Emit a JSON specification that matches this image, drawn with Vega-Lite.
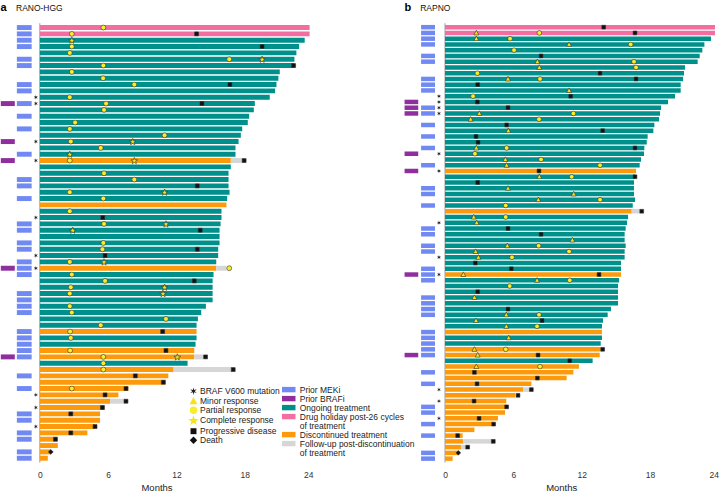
{
  "$schema": "https://vega.github.io/schema/vega-lite/v6.json",
  "padding": {"left": 0, "top": 1.2, "right": 0, "bottom": 0},
  "bounds": "flush",
  "spacing": 91,
  "resolve": {"legend": {"color": "independent", "shape": "independent", "fill": "independent"}},
  "config": {
    "view": {"stroke": null},
    "font": "Liberation Sans",
    "axisX": {"grid": false, "ticks": false, "domain": false, "labelFontSize": 8.5, "labelColor": "#333", "labelPadding": 8, "titleFontSize": 9.5, "titleFontWeight": "normal", "titleColor": "#222", "titlePadding": 3},
    "axisY": {"labels": false, "ticks": false, "domain": false, "grid": false, "titleAngle": 0, "titleAlign": "left", "titleBaseline": "alphabetic", "titleX": 0, "titleY": -12.9, "titleFontSize": 11, "titleFontWeight": "bold", "titleColor": "#000"}
  },
  "datasets": {
    "aRows": [
      {"r":1,"s":"Drug holiday post-26 cycles","end":23.7},
      {"r":2,"s":"Drug holiday post-26 cycles","end":23.7},
      {"r":3,"s":"Ongoing treatment","end":23.27},
      {"r":4,"s":"Ongoing treatment","end":22.78},
      {"r":5,"s":"Ongoing treatment","end":22.54},
      {"r":6,"s":"Ongoing treatment","end":22.37},
      {"r":7,"s":"Ongoing treatment","end":22.37},
      {"r":8,"s":"Ongoing treatment","end":21.08},
      {"r":9,"s":"Ongoing treatment","end":20.96},
      {"r":10,"s":"Ongoing treatment","end":20.79},
      {"r":11,"s":"Ongoing treatment","end":20.67},
      {"r":12,"s":"Ongoing treatment","end":20.2},
      {"r":13,"s":"Ongoing treatment","end":18.89},
      {"r":14,"s":"Ongoing treatment","end":18.8},
      {"r":15,"s":"Ongoing treatment","end":18.39},
      {"r":16,"s":"Ongoing treatment","end":18.27},
      {"r":17,"s":"Ongoing treatment","end":17.78},
      {"r":18,"s":"Ongoing treatment","end":17.66},
      {"r":19,"s":"Ongoing treatment","end":17.46},
      {"r":20,"s":"Ongoing treatment","end":17.19},
      {"r":21,"s":"Ongoing treatment","end":17.19},
      {"r":22,"s":"Discontinued treatment","end":16.78,"fu":17.95},
      {"r":23,"s":"Ongoing treatment","end":16.78},
      {"r":24,"s":"Ongoing treatment","end":16.58},
      {"r":25,"s":"Ongoing treatment","end":16.58},
      {"r":26,"s":"Ongoing treatment","end":16.58},
      {"r":27,"s":"Ongoing treatment","end":16.67},
      {"r":28,"s":"Ongoing treatment","end":16.46},
      {"r":29,"s":"Discontinued treatment","end":16.4},
      {"r":30,"s":"Ongoing treatment","end":15.96},
      {"r":31,"s":"Ongoing treatment","end":15.96},
      {"r":32,"s":"Ongoing treatment","end":15.88},
      {"r":33,"s":"Ongoing treatment","end":15.79},
      {"r":34,"s":"Ongoing treatment","end":15.79},
      {"r":35,"s":"Ongoing treatment","end":15.79},
      {"r":36,"s":"Ongoing treatment","end":15.67},
      {"r":37,"s":"Ongoing treatment","end":15.67},
      {"r":38,"s":"Ongoing treatment","end":15.5},
      {"r":39,"s":"Discontinued treatment","end":15.5,"fu":16.4},
      {"r":40,"s":"Ongoing treatment","end":15.26},
      {"r":41,"s":"Ongoing treatment","end":15.18},
      {"r":42,"s":"Ongoing treatment","end":15.18},
      {"r":43,"s":"Ongoing treatment","end":15.18},
      {"r":44,"s":"Ongoing treatment","end":15.18},
      {"r":45,"s":"Ongoing treatment","end":14.59},
      {"r":46,"s":"Ongoing treatment","end":14.18},
      {"r":47,"s":"Ongoing treatment","end":13.89},
      {"r":48,"s":"Ongoing treatment","end":13.77},
      {"r":49,"s":"Discontinued treatment","end":13.77},
      {"r":50,"s":"Ongoing treatment","end":13.77},
      {"r":51,"s":"Ongoing treatment","end":13.68},
      {"r":52,"s":"Discontinued treatment","end":13.57},
      {"r":53,"s":"Discontinued treatment","end":13.57,"fu":14.36},
      {"r":54,"s":"Ongoing treatment","end":12.98},
      {"r":55,"s":"Discontinued treatment","end":11.75,"fu":16.99},
      {"r":56,"s":"Discontinued treatment","end":11.29},
      {"r":57,"s":"Discontinued treatment","end":11.05},
      {"r":58,"s":"Discontinued treatment","end":7.78},
      {"r":59,"s":"Discontinued treatment","end":6.9},
      {"r":60,"s":"Discontinued treatment","end":6.17,"fu":7.57},
      {"r":61,"s":"Discontinued treatment","end":5.67},
      {"r":62,"s":"Discontinued treatment","end":5.29},
      {"r":63,"s":"Discontinued treatment","end":5.29},
      {"r":64,"s":"Discontinued treatment","end":4.85},
      {"r":65,"s":"Discontinued treatment","end":4.18},
      {"r":66,"s":"Discontinued treatment","end":1.55},
      {"r":67,"s":"Discontinued treatment","end":1.58},
      {"r":68,"s":"Discontinued treatment","end":0.96},
      {"r":69,"s":"Discontinued treatment","end":0.7}
    ],
    "aPrior": [
      {"r":1,"p":"Prior MEKi"},{"r":2,"p":"Prior MEKi"},{"r":3,"p":"Prior MEKi"},{"r":4,"p":"Prior MEKi"},{"r":6,"p":"Prior MEKi"},{"r":7,"p":"Prior MEKi"},{"r":10,"p":"Prior MEKi"},{"r":11,"p":"Prior MEKi"},{"r":13,"p":"Prior MEKi"},{"r":15,"p":"Prior MEKi"},{"r":17,"p":"Prior MEKi"},{"r":21,"p":"Prior MEKi"},{"r":25,"p":"Prior MEKi"},{"r":26,"p":"Prior MEKi"},{"r":28,"p":"Prior MEKi"},{"r":32,"p":"Prior MEKi"},{"r":33,"p":"Prior MEKi"},{"r":35,"p":"Prior MEKi"},{"r":36,"p":"Prior MEKi"},{"r":38,"p":"Prior MEKi"},{"r":39,"p":"Prior MEKi"},{"r":40,"p":"Prior MEKi"},{"r":43,"p":"Prior MEKi"},{"r":44,"p":"Prior MEKi"},{"r":45,"p":"Prior MEKi"},{"r":46,"p":"Prior MEKi"},{"r":49,"p":"Prior MEKi"},{"r":50,"p":"Prior MEKi"},{"r":51,"p":"Prior MEKi"},{"r":52,"p":"Prior MEKi"},{"r":53,"p":"Prior MEKi"},{"r":56,"p":"Prior MEKi"},{"r":58,"p":"Prior MEKi"},{"r":62,"p":"Prior MEKi"},{"r":63,"p":"Prior MEKi"},{"r":65,"p":"Prior MEKi"},{"r":66,"p":"Prior MEKi"},{"r":68,"p":"Prior MEKi"},{"r":69,"p":"Prior MEKi"},
      {"r":13,"p":"Prior BRAFi"},{"r":19,"p":"Prior BRAFi"},{"r":22,"p":"Prior BRAFi"},{"r":39,"p":"Prior BRAFi"},{"r":53,"p":"Prior BRAFi"}
    ],
    "aEvents": [
      {"r":12,"ev":"BRAF V600 mutation"},{"r":13,"ev":"BRAF V600 mutation"},{"r":19,"ev":"BRAF V600 mutation"},{"r":22,"ev":"BRAF V600 mutation"},{"r":31,"ev":"BRAF V600 mutation"},{"r":37,"ev":"BRAF V600 mutation"},{"r":39,"ev":"BRAF V600 mutation"},{"r":59,"ev":"BRAF V600 mutation"},{"r":61,"ev":"BRAF V600 mutation"},{"r":64,"ev":"BRAF V600 mutation"},
      {"r":1,"t":5.58,"ev":"Partial response"},
      {"r":2,"t":2.81,"ev":"Partial response"},{"r":2,"t":13.77,"ev":"Progressive disease"},
      {"r":3,"t":2.81,"ev":"Complete response"},
      {"r":4,"t":2.81,"ev":"Partial response"},{"r":4,"t":19.53,"ev":"Progressive disease"},
      {"r":5,"t":2.63,"ev":"Partial response"},
      {"r":6,"t":16.64,"ev":"Partial response"},{"r":6,"t":19.53,"ev":"Complete response"},
      {"r":7,"t":5.58,"ev":"Partial response"},{"r":7,"t":22.3,"ev":"Progressive disease"},
      {"r":8,"t":2.81,"ev":"Partial response"},
      {"r":9,"t":5.56,"ev":"Partial response"},
      {"r":10,"t":8.3,"ev":"Partial response"},{"r":10,"t":16.7,"ev":"Progressive disease"},
      {"r":12,"t":2.63,"ev":"Partial response"},
      {"r":13,"t":5.82,"ev":"Partial response"},{"r":13,"t":14.24,"ev":"Progressive disease"},
      {"r":14,"t":5.64,"ev":"Partial response"},
      {"r":16,"t":3.1,"ev":"Partial response"},
      {"r":17,"t":2.63,"ev":"Partial response"},
      {"r":18,"t":10.96,"ev":"Partial response"},
      {"r":19,"t":2.72,"ev":"Partial response"},{"r":19,"t":8.16,"ev":"Complete response"},
      {"r":20,"t":5.35,"ev":"Partial response"},
      {"r":21,"t":2.63,"ev":"Complete response"},
      {"r":22,"t":2.63,"ev":"Partial response"},{"r":22,"t":8.3,"ev":"Complete response"},{"r":22,"t":17.95,"ev":"Progressive disease"},
      {"r":24,"t":5.64,"ev":"Partial response"},
      {"r":25,"t":8.3,"ev":"Partial response"},
      {"r":26,"t":13.83,"ev":"Progressive disease"},
      {"r":27,"t":2.63,"ev":"Partial response"},{"r":27,"t":10.96,"ev":"Complete response"},
      {"r":28,"t":5.58,"ev":"Partial response"},
      {"r":30,"t":2.63,"ev":"Partial response"},
      {"r":31,"t":5.53,"ev":"Progressive disease"},
      {"r":32,"t":5.64,"ev":"Partial response"},{"r":32,"t":11.08,"ev":"Complete response"},
      {"r":33,"t":2.89,"ev":"Complete response"},{"r":33,"t":14.09,"ev":"Progressive disease"},
      {"r":35,"t":5.58,"ev":"Partial response"},
      {"r":36,"t":5.5,"ev":"Partial response"},{"r":36,"t":13.83,"ev":"Progressive disease"},
      {"r":37,"t":5.73,"ev":"Progressive disease"},
      {"r":38,"t":2.63,"ev":"Partial response"},{"r":38,"t":5.64,"ev":"Complete response"},
      {"r":39,"t":16.64,"ev":"Partial response"},
      {"r":40,"t":2.81,"ev":"Partial response"},
      {"r":41,"t":5.73,"ev":"Partial response"},{"r":41,"t":13.57,"ev":"Progressive disease"},
      {"r":42,"t":2.72,"ev":"Partial response"},{"r":42,"t":10.96,"ev":"Complete response"},
      {"r":43,"t":2.63,"ev":"Partial response"},{"r":43,"t":10.82,"ev":"Complete response"},
      {"r":45,"t":2.63,"ev":"Partial response"},
      {"r":46,"t":2.81,"ev":"Partial response"},
      {"r":47,"t":11.08,"ev":"Partial response"},
      {"r":48,"t":5.35,"ev":"Partial response"},
      {"r":49,"t":2.66,"ev":"Partial response"},{"r":49,"t":10.79,"ev":"Progressive disease"},
      {"r":50,"t":2.72,"ev":"Partial response"},
      {"r":52,"t":2.66,"ev":"Partial response"},{"r":52,"t":11.08,"ev":"Progressive disease"},
      {"r":53,"t":5.58,"ev":"Partial response"},{"r":53,"t":12.08,"ev":"Complete response"},{"r":53,"t":14.56,"ev":"Progressive disease"},
      {"r":54,"t":5.58,"ev":"Partial response"},
      {"r":55,"t":5.58,"ev":"Partial response"},{"r":55,"t":16.99,"ev":"Progressive disease"},
      {"r":56,"t":8.39,"ev":"Progressive disease"},
      {"r":57,"t":10.85,"ev":"Progressive disease"},
      {"r":58,"t":2.81,"ev":"Partial response"},{"r":58,"t":7.57,"ev":"Progressive disease"},
      {"r":59,"t":5.73,"ev":"Progressive disease"},
      {"r":60,"t":7.57,"ev":"Progressive disease"},
      {"r":61,"t":5.5,"ev":"Progressive disease"},
      {"r":62,"t":2.72,"ev":"Progressive disease"},
      {"r":64,"t":4.85,"ev":"Progressive disease"},
      {"r":65,"t":2.72,"ev":"Progressive disease"},
      {"r":66,"t":1.37,"ev":"Progressive disease"},
      {"r":68,"t":0.96,"ev":"Death"}
    ],
    "bRows": [
      {"r":1,"s":"Drug holiday post-26 cycles","end":23.7},
      {"r":2,"s":"Drug holiday post-26 cycles","end":23.7},
      {"r":3,"s":"Ongoing treatment","end":23.35},
      {"r":4,"s":"Ongoing treatment","end":22.77},
      {"r":5,"s":"Ongoing treatment","end":22.59},
      {"r":6,"s":"Ongoing treatment","end":22.36},
      {"r":7,"s":"Ongoing treatment","end":22.18},
      {"r":8,"s":"Ongoing treatment","end":21.07},
      {"r":9,"s":"Ongoing treatment","end":20.98},
      {"r":10,"s":"Ongoing treatment","end":20.9},
      {"r":11,"s":"Ongoing treatment","end":20.69},
      {"r":12,"s":"Ongoing treatment","end":20.69},
      {"r":13,"s":"Ongoing treatment","end":20.19},
      {"r":14,"s":"Ongoing treatment","end":19.58},
      {"r":15,"s":"Ongoing treatment","end":18.96},
      {"r":16,"s":"Ongoing treatment","end":18.88},
      {"r":17,"s":"Ongoing treatment","end":18.79},
      {"r":18,"s":"Ongoing treatment","end":18.38},
      {"r":19,"s":"Ongoing treatment","end":18.29},
      {"r":20,"s":"Ongoing treatment","end":17.79},
      {"r":21,"s":"Ongoing treatment","end":17.71},
      {"r":22,"s":"Ongoing treatment","end":17.5},
      {"r":23,"s":"Ongoing treatment","end":17.47},
      {"r":24,"s":"Ongoing treatment","end":17.21},
      {"r":25,"s":"Ongoing treatment","end":17.09},
      {"r":26,"s":"Discontinued treatment","end":16.77},
      {"r":27,"s":"Ongoing treatment","end":16.68},
      {"r":28,"s":"Ongoing treatment","end":16.59},
      {"r":29,"s":"Ongoing treatment","end":16.59},
      {"r":30,"s":"Ongoing treatment","end":16.59},
      {"r":31,"s":"Ongoing treatment","end":16.68},
      {"r":32,"s":"Ongoing treatment","end":16.48},
      {"r":33,"s":"Discontinued treatment","end":16.39,"fu":17.12},
      {"r":34,"s":"Ongoing treatment","end":16.07},
      {"r":35,"s":"Ongoing treatment","end":15.98},
      {"r":36,"s":"Ongoing treatment","end":15.86},
      {"r":37,"s":"Ongoing treatment","end":15.77},
      {"r":38,"s":"Ongoing treatment","end":15.77},
      {"r":39,"s":"Ongoing treatment","end":15.86},
      {"r":40,"s":"Ongoing treatment","end":15.77},
      {"r":41,"s":"Ongoing treatment","end":15.77},
      {"r":42,"s":"Ongoing treatment","end":15.45},
      {"r":43,"s":"Ongoing treatment","end":15.45},
      {"r":44,"s":"Discontinued treatment","end":15.45},
      {"r":45,"s":"Ongoing treatment","end":15.28},
      {"r":46,"s":"Ongoing treatment","end":15.19},
      {"r":47,"s":"Ongoing treatment","end":15.19},
      {"r":48,"s":"Ongoing treatment","end":15.19},
      {"r":49,"s":"Ongoing treatment","end":15.19},
      {"r":50,"s":"Ongoing treatment","end":14.57},
      {"r":51,"s":"Ongoing treatment","end":14.28},
      {"r":52,"s":"Ongoing treatment","end":13.87},
      {"r":53,"s":"Ongoing treatment","end":13.78},
      {"r":54,"s":"Discontinued treatment","end":13.78},
      {"r":55,"s":"Ongoing treatment","end":13.78},
      {"r":56,"s":"Ongoing treatment","end":13.67},
      {"r":57,"s":"Discontinued treatment","end":13.67},
      {"r":58,"s":"Discontinued treatment","end":13.58},
      {"r":59,"s":"Ongoing treatment","end":12.96},
      {"r":60,"s":"Discontinued treatment","end":11.76},
      {"r":61,"s":"Discontinued treatment","end":11.27},
      {"r":62,"s":"Discontinued treatment","end":10.68},
      {"r":63,"s":"Discontinued treatment","end":7.58},
      {"r":64,"s":"Discontinued treatment","end":6.88,"fu":7.4},
      {"r":65,"s":"Discontinued treatment","end":6.17},
      {"r":66,"s":"Discontinued treatment","end":5.38},
      {"r":67,"s":"Discontinued treatment","end":5.41},
      {"r":68,"s":"Discontinued treatment","end":5.27},
      {"r":69,"s":"Discontinued treatment","end":4.65},
      {"r":70,"s":"Discontinued treatment","end":4.27},
      {"r":71,"s":"Discontinued treatment","end":2.58},
      {"r":72,"s":"Discontinued treatment","end":1.55},
      {"r":73,"s":"Discontinued treatment","end":1.61,"fu":4.24},
      {"r":74,"s":"Discontinued treatment","end":1.4,"fu":1.9},
      {"r":75,"s":"Discontinued treatment","end":1.17},
      {"r":76,"s":"Discontinued treatment","end":0.67}
    ],
    "bPrior": [
      {"r":1,"p":"Prior MEKi"},{"r":2,"p":"Prior MEKi"},{"r":3,"p":"Prior MEKi"},{"r":4,"p":"Prior MEKi"},{"r":6,"p":"Prior MEKi"},{"r":7,"p":"Prior MEKi"},{"r":10,"p":"Prior MEKi"},{"r":11,"p":"Prior MEKi"},{"r":12,"p":"Prior MEKi"},{"r":15,"p":"Prior MEKi"},{"r":16,"p":"Prior MEKi"},{"r":18,"p":"Prior MEKi"},{"r":20,"p":"Prior MEKi"},{"r":22,"p":"Prior MEKi"},{"r":25,"p":"Prior MEKi"},{"r":29,"p":"Prior MEKi"},{"r":30,"p":"Prior MEKi"},{"r":32,"p":"Prior MEKi"},{"r":36,"p":"Prior MEKi"},{"r":37,"p":"Prior MEKi"},{"r":39,"p":"Prior MEKi"},{"r":40,"p":"Prior MEKi"},{"r":43,"p":"Prior MEKi"},{"r":44,"p":"Prior MEKi"},{"r":45,"p":"Prior MEKi"},{"r":48,"p":"Prior MEKi"},{"r":49,"p":"Prior MEKi"},{"r":50,"p":"Prior MEKi"},{"r":51,"p":"Prior MEKi"},{"r":54,"p":"Prior MEKi"},{"r":55,"p":"Prior MEKi"},{"r":56,"p":"Prior MEKi"},{"r":57,"p":"Prior MEKi"},{"r":58,"p":"Prior MEKi"},{"r":61,"p":"Prior MEKi"},{"r":63,"p":"Prior MEKi"},{"r":67,"p":"Prior MEKi"},{"r":68,"p":"Prior MEKi"},{"r":70,"p":"Prior MEKi"},{"r":72,"p":"Prior MEKi"},{"r":75,"p":"Prior MEKi"},{"r":76,"p":"Prior MEKi"},
      {"r":14,"p":"Prior BRAFi"},{"r":15,"p":"Prior BRAFi"},{"r":16,"p":"Prior BRAFi"},{"r":23,"p":"Prior BRAFi"},{"r":26,"p":"Prior BRAFi"},{"r":44,"p":"Prior BRAFi"},{"r":58,"p":"Prior BRAFi"}
    ],
    "bEvents": [
      {"r":13,"ev":"BRAF V600 mutation"},{"r":14,"ev":"BRAF V600 mutation"},{"r":15,"ev":"BRAF V600 mutation"},{"r":16,"ev":"BRAF V600 mutation"},{"r":23,"ev":"BRAF V600 mutation"},{"r":26,"ev":"BRAF V600 mutation"},{"r":35,"ev":"BRAF V600 mutation"},{"r":41,"ev":"BRAF V600 mutation"},{"r":44,"ev":"BRAF V600 mutation"},{"r":64,"ev":"BRAF V600 mutation"},{"r":66,"ev":"BRAF V600 mutation"},{"r":69,"ev":"BRAF V600 mutation"},
      {"r":1,"t":13.93,"ev":"Progressive disease"},
      {"r":2,"t":2.75,"ev":"Minor response"},{"r":2,"t":8.28,"ev":"Partial response"},{"r":2,"t":16.68,"ev":"Progressive disease"},
      {"r":3,"t":2.75,"ev":"Minor response"},{"r":3,"t":5.71,"ev":"Partial response"},
      {"r":4,"t":10.89,"ev":"Minor response"},{"r":4,"t":16.3,"ev":"Partial response"},
      {"r":5,"t":6.06,"ev":"Partial response"},
      {"r":6,"t":8.43,"ev":"Progressive disease"},
      {"r":7,"t":8.11,"ev":"Minor response"},{"r":7,"t":16.59,"ev":"Partial response"},
      {"r":8,"t":8.28,"ev":"Minor response"},{"r":8,"t":16.77,"ev":"Partial response"},
      {"r":9,"t":2.84,"ev":"Partial response"},{"r":9,"t":13.61,"ev":"Progressive disease"},
      {"r":10,"t":5.53,"ev":"Minor response"},{"r":10,"t":8.34,"ev":"Partial response"},{"r":10,"t":16.77,"ev":"Progressive disease"},
      {"r":11,"t":2.87,"ev":"Progressive disease"},
      {"r":12,"t":10.89,"ev":"Minor response"},
      {"r":13,"t":2.46,"ev":"Partial response"},{"r":13,"t":11.03,"ev":"Progressive disease"},
      {"r":14,"t":2.84,"ev":"Progressive disease"},
      {"r":15,"t":5.53,"ev":"Progressive disease"},
      {"r":16,"t":3.01,"ev":"Minor response"},{"r":16,"t":11.27,"ev":"Partial response"},
      {"r":17,"t":2.25,"ev":"Minor response"},{"r":17,"t":8.25,"ev":"Partial response"},
      {"r":18,"t":5.41,"ev":"Progressive disease"},
      {"r":19,"t":5.56,"ev":"Minor response"},{"r":19,"t":13.84,"ev":"Progressive disease"},
      {"r":20,"t":2.72,"ev":"Progressive disease"},
      {"r":21,"t":2.9,"ev":"Progressive disease"},
      {"r":22,"t":2.75,"ev":"Minor response"},{"r":22,"t":5.41,"ev":"Partial response"},{"r":22,"t":16.68,"ev":"Progressive disease"},
      {"r":23,"t":2.63,"ev":"Partial response"},
      {"r":24,"t":5.3,"ev":"Minor response"},{"r":24,"t":8.43,"ev":"Partial response"},
      {"r":25,"t":5.41,"ev":"Minor response"},{"r":25,"t":13.61,"ev":"Partial response"},
      {"r":26,"t":8.25,"ev":"Progressive disease"},
      {"r":27,"t":8.28,"ev":"Minor response"},{"r":27,"t":11.12,"ev":"Partial response"},{"r":27,"t":16.68,"ev":"Progressive disease"},
      {"r":28,"t":2.87,"ev":"Progressive disease"},
      {"r":29,"t":5.53,"ev":"Minor response"},
      {"r":30,"t":11.3,"ev":"Minor response"},
      {"r":31,"t":8.19,"ev":"Minor response"},{"r":31,"t":13.61,"ev":"Partial response"},
      {"r":32,"t":5.33,"ev":"Partial response"},
      {"r":33,"t":17.27,"ev":"Progressive disease"},
      {"r":34,"t":2.52,"ev":"Minor response"},{"r":34,"t":5.33,"ev":"Partial response"},
      {"r":35,"t":2.78,"ev":"Minor response"},
      {"r":36,"t":5.53,"ev":"Progressive disease"},
      {"r":37,"t":8.43,"ev":"Progressive disease"},
      {"r":38,"t":11.18,"ev":"Minor response"},
      {"r":39,"t":5.47,"ev":"Minor response"},{"r":39,"t":8.22,"ev":"Partial response"},
      {"r":40,"t":2.69,"ev":"Minor response"},{"r":40,"t":10.89,"ev":"Partial response"},
      {"r":41,"t":2.93,"ev":"Minor response"},{"r":41,"t":5.88,"ev":"Partial response"},
      {"r":42,"t":2.66,"ev":"Progressive disease"},
      {"r":43,"t":5.82,"ev":"Progressive disease"},
      {"r":44,"t":1.61,"ev":"Minor response"},{"r":44,"t":13.52,"ev":"Progressive disease"},
      {"r":45,"t":8.08,"ev":"Minor response"},{"r":45,"t":10.95,"ev":"Partial response"},
      {"r":46,"t":5.68,"ev":"Partial response"},
      {"r":47,"t":2.87,"ev":"Progressive disease"},
      {"r":48,"t":2.58,"ev":"Minor response"},
      {"r":50,"t":5.53,"ev":"Progressive disease"},
      {"r":51,"t":5.38,"ev":"Minor response"},{"r":51,"t":8.25,"ev":"Partial response"},
      {"r":52,"t":2.72,"ev":"Minor response"},{"r":52,"t":8.52,"ev":"Progressive disease"},
      {"r":53,"t":5.38,"ev":"Minor response"},{"r":53,"t":8.08,"ev":"Partial response"},
      {"r":55,"t":5.59,"ev":"Minor response"},
      {"r":57,"t":2.58,"ev":"Minor response"},{"r":57,"t":5.33,"ev":"Partial response"},{"r":57,"t":13.84,"ev":"Progressive disease"},
      {"r":58,"t":2.87,"ev":"Minor response"},{"r":58,"t":8.17,"ev":"Progressive disease"},
      {"r":59,"t":10.95,"ev":"Progressive disease"},
      {"r":60,"t":2.75,"ev":"Minor response"},{"r":60,"t":8.34,"ev":"Partial response"},
      {"r":61,"t":2.58,"ev":"Progressive disease"},
      {"r":62,"t":8.11,"ev":"Progressive disease"},
      {"r":63,"t":2.81,"ev":"Progressive disease"},
      {"r":64,"t":7.58,"ev":"Progressive disease"},
      {"r":65,"t":6.41,"ev":"Progressive disease"},
      {"r":66,"t":2.55,"ev":"Progressive disease"},
      {"r":67,"t":5.41,"ev":"Progressive disease"},
      {"r":69,"t":2.99,"ev":"Progressive disease"},
      {"r":70,"t":4.27,"ev":"Progressive disease"},
      {"r":72,"t":1.11,"ev":"Progressive disease"},
      {"r":73,"t":4.24,"ev":"Progressive disease"},
      {"r":74,"t":1.99,"ev":"Progressive disease"},
      {"r":75,"t":1.17,"ev":"Death"}
    ]
  },
  "hconcat": [
    {
      "width": 313,
      "height": 439.4,
      "resolve": {"axis": {"x": "independent"}},
      "layer": [
        {"data": {"values": [{}]}, "mark": {"type": "rule", "color": "#a0a0a0", "strokeWidth": 1},
         "encoding": {"x": {"datum": 0, "type": "quantitative", "axis": {"orient": "top", "labels": false, "title": "RANO-HGG", "titleX": 15.5, "titleY": -12.9, "titleAlign": "left", "titleBaseline": "alphabetic", "titleFontSize": 8.5, "titleFontWeight": "normal", "titleColor": "#111", "titleAngle": 0}}}},
        {"data": {"name": "aRows"}, "mark": {"type": "bar"},
         "encoding": {
           "y": {"field": "r", "type": "ordinal", "axis": {"title": "a"}, "scale": {"paddingInner": 0.22, "paddingOuter": 0.3}},
           "x": {"field": "end", "type": "quantitative", "scale": {"domain": [-3.5, 24], "nice": false, "zero": false}, "axis": {"title": "Months", "values": [0, 6, 12, 18, 24]}},
           "x2": {"datum": 0},
           "color": {"field": "s", "type": "nominal",
             "scale": {"domain": ["Prior MEKi","Prior BRAFi","Ongoing treatment","Drug holiday post-26 cycles","of treatment","Discontinued treatment","Follow-up post-discontinuation","of treatment\u00a0"],
                       "range": ["#7189f3","#8f2f9e","#00908c","#f46da1","rgba(0,0,0,0)","#fd9a0c","#d6d6d6","rgba(0,0,0,0)"]},
             "legend": {"orient": "none", "legendX": 284.25, "legendY": 361.9, "title": null, "labelFontSize": 8.5, "labelColor": "#222", "symbolType": "M-1.5,-0.6H1.5V0.6H-1.5Z", "symbolSize": 81, "symbolStrokeWidth": 0, "rowPadding": 0, "padding": 0, "labelOffset": 6.5}}
         }},
        {"data": {"name": "aRows"}, "transform": [{"filter": "datum.fu"}], "mark": {"type": "bar"},
         "encoding": {
           "y": {"field": "r", "type": "ordinal"},
           "x": {"field": "end", "type": "quantitative", "axis": null},
           "x2": {"field": "fu"},
           "color": {"datum": "Follow-up post-discontinuation"}
         }},
        {"data": {"name": "aPrior"}, "transform": [{"filter": "datum.p == 'Prior MEKi'"}], "mark": {"type": "bar"},
         "encoding": {"y": {"field": "r", "type": "ordinal"}, "x": {"datum": -2.02, "type": "quantitative", "axis": null}, "x2": {"datum": -0.72}, "color": {"field": "p", "type": "nominal"}}},
        {"data": {"name": "aPrior"}, "transform": [{"filter": "datum.p == 'Prior BRAFi'"}], "mark": {"type": "bar"},
         "encoding": {"y": {"field": "r", "type": "ordinal"}, "x": {"datum": -3.43, "type": "quantitative", "axis": null}, "x2": {"datum": -2.2}, "color": {"field": "p", "type": "nominal"}}},
        {"data": {"name": "aEvents"}, "transform": [{"filter": "datum.ev == 'BRAF V600 mutation'"}], "mark": {"type": "point", "filled": true, "size": 22, "opacity": 1},
         "encoding": {"y": {"field": "r", "type": "ordinal"}, "x": {"datum": -0.35, "type": "quantitative", "axis": null},
           "shape": {"field": "ev", "type": "nominal"}, "fill": {"field": "ev", "type": "nominal"}}},
        {"data": {"name": "aEvents"}, "transform": [{"filter": "datum.ev != 'BRAF V600 mutation'"}], "mark": {"type": "point", "filled": true, "size": 24, "opacity": 1, "stroke": "#333", "strokeWidth": 0.6},
         "encoding": {"y": {"field": "r", "type": "ordinal"}, "x": {"field": "t", "type": "quantitative", "axis": null},
           "shape": {"field": "ev", "type": "nominal",
             "scale": {"domain": ["BRAF V600 mutation","Minor response","Partial response","Complete response","Progressive disease","Death"],
                       "range": ["M0,-1L0.175,-0.303L0.866,-0.5L0.35,0L0.866,0.5L0.175,0.303L0,1L-0.175,0.303L-0.866,0.5L-0.35,0L-0.866,-0.5L-0.175,-0.303Z","M0,-1.15L1.05,0.85L-1.05,0.85Z","circle","M0,-1.31L0.341,-0.329L1.379,-0.308L0.552,0.319L0.852,1.313L0,0.72L-0.852,1.313L-0.552,0.319L-1.379,-0.308L-0.341,-0.329Z","M-0.8,-0.8L0.8,-0.8L0.8,0.8L-0.8,0.8Z","diamond"]},
             "legend": {"orient": "none", "legendX": 189, "legendY": 363.5, "title": null, "labelFontSize": 8.5, "labelColor": "#222", "symbolSize": 55, "symbolStrokeColor": "#222", "symbolStrokeWidth": 0.6, "rowPadding": -2.8, "padding": 0, "labelOffset": 2}},
           "fill": {"field": "ev", "type": "nominal",
             "scale": {"domain": ["BRAF V600 mutation","Minor response","Partial response","Complete response","Progressive disease","Death"],
                       "range": ["#222","#f3e21c","#f8ed2b","#f3e21c","#111","#111"]},
             "legend": {"orient": "none", "legendX": 189, "legendY": 363.5, "title": null, "labelFontSize": 8.5, "labelColor": "#222", "symbolSize": 55, "symbolStrokeColor": "#222", "symbolStrokeWidth": 0.6, "rowPadding": -2.8, "padding": 0, "labelOffset": 2}}
         }}
      ]
    },
    {
      "width": 314.4,
      "height": 439.4,
      "resolve": {"axis": {"x": "independent"}},
      "layer": [
        {"data": {"values": [{}]}, "mark": {"type": "rule", "color": "#a0a0a0", "strokeWidth": 1},
         "encoding": {"x": {"datum": 0, "type": "quantitative", "axis": {"orient": "top", "labels": false, "title": "RAPNO", "titleX": 15.7, "titleY": -12.9, "titleAlign": "left", "titleBaseline": "alphabetic", "titleFontSize": 8.5, "titleFontWeight": "normal", "titleColor": "#111", "titleAngle": 0}}}},
        {"data": {"name": "bRows"}, "mark": {"type": "bar"},
         "encoding": {
           "y": {"field": "r", "type": "ordinal", "axis": {"title": "b"}, "scale": {"paddingInner": 0.22, "paddingOuter": 0.3}},
           "x": {"field": "end", "type": "quantitative", "scale": {"domain": [-3.6, 24], "nice": false, "zero": false}, "axis": {"title": "Months", "values": [0, 6, 12, 18, 24]}},
           "x2": {"datum": 0},
           "color": {"field": "s", "type": "nominal", "legend": null}
         }},
        {"data": {"name": "bRows"}, "transform": [{"filter": "datum.fu"}], "mark": {"type": "bar"},
         "encoding": {
           "y": {"field": "r", "type": "ordinal"},
           "x": {"field": "end", "type": "quantitative", "axis": null},
           "x2": {"field": "fu"},
           "color": {"datum": "Follow-up post-discontinuation", "legend": null}
         }},
        {"data": {"name": "bPrior"}, "transform": [{"filter": "datum.p == 'Prior MEKi'"}], "mark": {"type": "bar"},
         "encoding": {"y": {"field": "r", "type": "ordinal"}, "x": {"datum": -2.1, "type": "quantitative", "axis": null}, "x2": {"datum": -0.88}, "color": {"field": "p", "type": "nominal", "legend": null}}},
        {"data": {"name": "bPrior"}, "transform": [{"filter": "datum.p == 'Prior BRAFi'"}], "mark": {"type": "bar"},
         "encoding": {"y": {"field": "r", "type": "ordinal"}, "x": {"datum": -3.55, "type": "quantitative", "axis": null}, "x2": {"datum": -2.35}, "color": {"field": "p", "type": "nominal", "legend": null}}},
        {"data": {"name": "bEvents"}, "transform": [{"filter": "datum.ev == 'BRAF V600 mutation'"}], "mark": {"type": "point", "filled": true, "size": 20, "opacity": 1},
         "encoding": {"y": {"field": "r", "type": "ordinal"}, "x": {"datum": -0.53, "type": "quantitative", "axis": null},
           "shape": {"field": "ev", "type": "nominal", "legend": null}, "fill": {"field": "ev", "type": "nominal", "legend": null}}},
        {"data": {"name": "bEvents"}, "transform": [{"filter": "datum.ev != 'BRAF V600 mutation'"}], "mark": {"type": "point", "filled": true, "size": 22, "opacity": 1, "stroke": "#333", "strokeWidth": 0.6},
         "encoding": {"y": {"field": "r", "type": "ordinal"}, "x": {"field": "t", "type": "quantitative", "axis": null},
           "shape": {"field": "ev", "type": "nominal", "legend": null}, "fill": {"field": "ev", "type": "nominal", "legend": null}}}
      ]
    }
  ]
}
